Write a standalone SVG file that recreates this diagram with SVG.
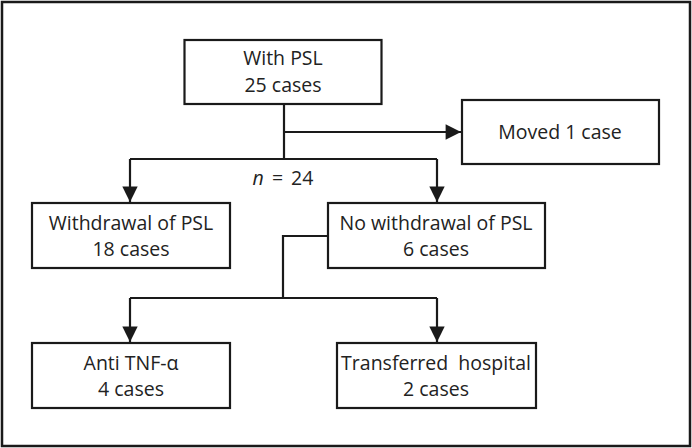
<svg xmlns="http://www.w3.org/2000/svg" width="692" height="448" viewBox="0 0 692 448">
<defs>
<style>
.box{fill:#fff;stroke:#1a1a1a;stroke-width:2.2}
.ln{fill:none;stroke:#1a1a1a;stroke-width:2.2}
text{font-family:"Open Sans","Noto Sans","Liberation Sans",sans-serif;font-size:19.5px;fill:#222;text-anchor:middle}
</style>
<marker id="ah" viewBox="0 0 10 10" refX="10" refY="5" markerWidth="7.5" markerHeight="7" markerUnits="strokeWidth" orient="auto">
<path d="M0,0 L10,5 L0,10 z" fill="#1a1a1a"/>
</marker>
</defs>
<rect x="0" y="0" width="692" height="448" fill="#fff"/>
<rect x="2" y="2" width="688" height="444" fill="none" stroke="#1a1a1a" stroke-width="2.5"/>
<g id="connectors">
<path class="ln" d="M284,104 V159"/>
<path class="ln" d="M284,132 H461" marker-end="url(#ah)"/>
<path class="ln" d="M130,159 H437"/>
<path class="ln" d="M130,159 V202" marker-end="url(#ah)"/>
<path class="ln" d="M437,159 V202" marker-end="url(#ah)"/>
<path class="ln" d="M328,236 H283 V298"/>
<path class="ln" d="M130,298 H437"/>
<path class="ln" d="M130,298 V342" marker-end="url(#ah)"/>
<path class="ln" d="M437,298 V342" marker-end="url(#ah)"/>
<text x="283" y="185" word-spacing="3"><tspan font-style="italic">n</tspan> = 24</text>
</g>
<g id="with-psl">
<rect class="box" x="184.5" y="40" width="197" height="64"/>
<text x="283" y="65">With PSL</text>
<text x="283" y="92">25 cases</text>
</g>
<g id="moved">
<rect class="box" x="462" y="100" width="197" height="64"/>
<text x="560" y="139">Moved 1 case</text>
</g>
<g id="withdrawal">
<rect class="box" x="32" y="203" width="198" height="65"/>
<text x="131" y="230">Withdrawal of PSL</text>
<text x="131" y="256">18 cases</text>
</g>
<g id="no-withdrawal">
<rect class="box" x="328" y="203" width="217" height="65"/>
<text x="436" y="230">No withdrawal of PSL</text>
<text x="436" y="256">6 cases</text>
</g>
<g id="anti-tnf">
<rect class="box" x="32" y="343" width="198" height="65"/>
<text x="131" y="370">Anti TNF-α</text>
<text x="131" y="396">4 cases</text>
</g>
<g id="transferred">
<rect class="box" x="337" y="343" width="199" height="65"/>
<text x="436" y="370" xml:space="preserve">Transferred  hospital</text>
<text x="436" y="396">2 cases</text>
</g>
</svg>
